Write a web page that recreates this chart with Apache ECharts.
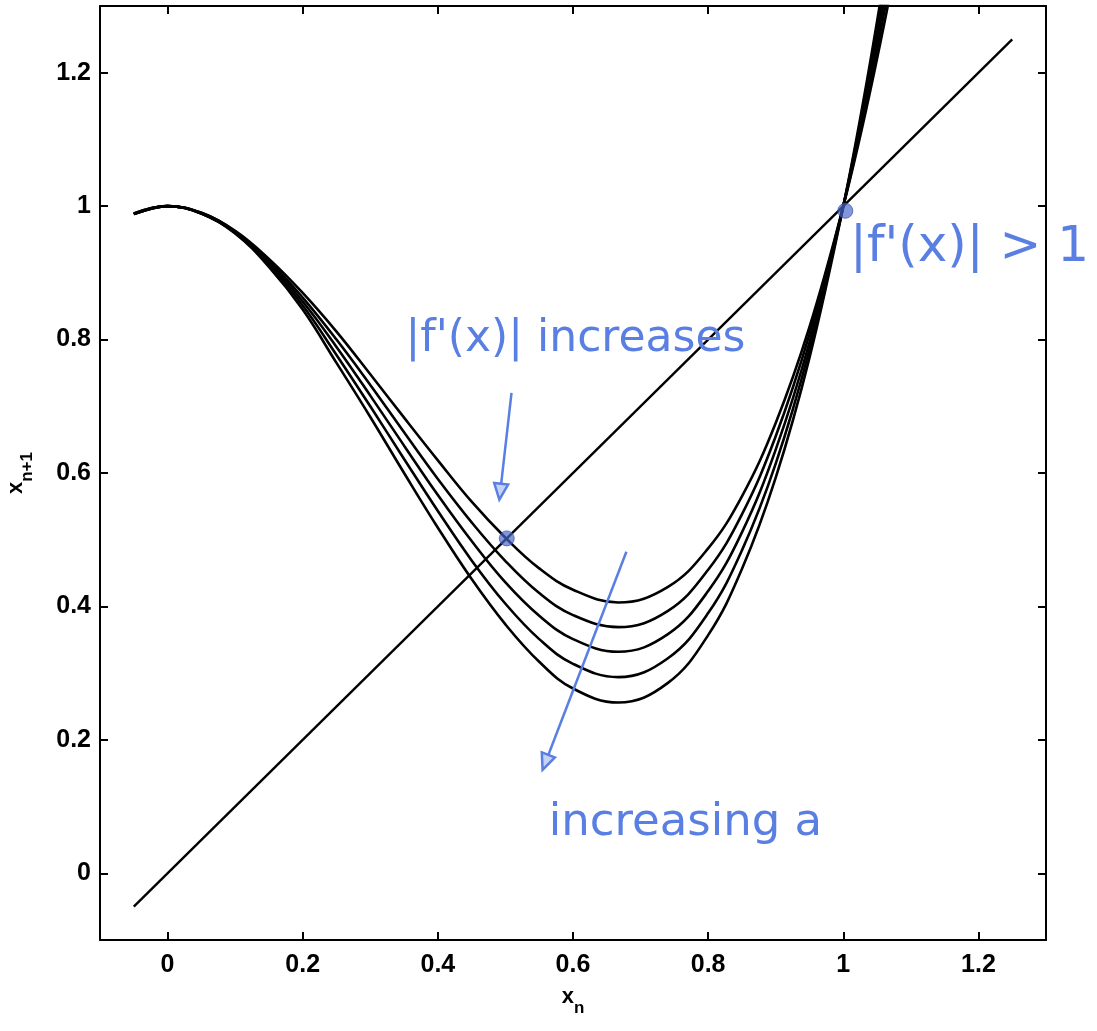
<!DOCTYPE html>
<html>
<head>
<meta charset="utf-8">
<script src="https://cdn.jsdelivr.net/npm/echarts@6/dist/echarts.min.js"></script>
<style>
  html, body { margin: 0; padding: 0; background: #fff; }
  #chart { width: 1097px; height: 1031px; }
</style>
</head>
<body>
<div id="chart"></div>
<script>
// Sample abscissae shared by the map curves (0.667 sits on the minimum)
const xn = [-0.05, 0, 0.05, 0.1, 0.15, 0.2, 0.25, 0.3, 0.35, 0.4, 0.45, 0.5, 0.55, 0.6, 0.667, 0.74, 0.8, 0.85, 0.9, 0.95, 1.0, 1.035, 1.07];

// Return map x_{n+1} = f(x_n) for five values of a (f1: smallest a, f5: largest a)
const f1 = [0.989, 1.0, 0.990, 0.963, 0.921, 0.870, 0.812, 0.748, 0.683, 0.619, 0.557, 0.503, 0.457, 0.425, 0.406, 0.429, 0.487, 0.565, 0.675, 0.819, 1.0, 1.150, 1.321];
const f2 = [0.989, 1.0, 0.990, 0.962, 0.918, 0.863, 0.800, 0.732, 0.661, 0.591, 0.526, 0.468, 0.420, 0.387, 0.369, 0.393, 0.455, 0.538, 0.655, 0.808, 1.0, 1.160, 1.341];
const f3 = [0.988, 1.0, 0.989, 0.961, 0.915, 0.857, 0.789, 0.716, 0.641, 0.567, 0.498, 0.436, 0.386, 0.351, 0.332, 0.358, 0.423, 0.511, 0.635, 0.796, 1.0, 1.169, 1.361];
const f4 = [0.988, 1.0, 0.989, 0.960, 0.912, 0.851, 0.777, 0.700, 0.621, 0.543, 0.469, 0.404, 0.351, 0.314, 0.294, 0.322, 0.390, 0.484, 0.614, 0.785, 1.0, 1.179, 1.382];
const f5 = [0.988, 1.0, 0.989, 0.959, 0.909, 0.845, 0.765, 0.684, 0.600, 0.518, 0.441, 0.373, 0.317, 0.277, 0.256, 0.285, 0.357, 0.456, 0.593, 0.773, 1.0, 1.188, 1.402];

// Identity line x_{n+1} = x_n
const diagonal = [[-0.05, -0.05], [1.25, 1.25]];

// Marked fixed points
const fixedPoints = [[0.502, 0.502], [1.003, 0.993]];

// Tick values on both axes
const tickValues = [0, 0.2, 0.4, 0.6, 0.8, 1, 1.2];

// Hand annotations (positions in data units)
const notes = [
  { text: "|f'(x)| increases", at: [0.352, 0.80], size: 44 },
  { text: "|f'(x)| > 1", at: [1.01, 0.937], size: 50 },
  { text: "increasing a", at: [0.564, 0.075], size: 45 }
];
const arrows = [
  { from: [0.509, 0.720], to: [0.491, 0.560] },
  { from: [0.679, 0.482], to: [0.555, 0.155] }
];

const INK = '#5a7fe2';
const FONT = 'Liberation Sans, Arial, sans-serif';

const chart = echarts.init(document.getElementById('chart'), null, { renderer: 'canvas' });

function makeAxis(extra) {
  return Object.assign({
    type: 'value',
    min: -0.1,
    max: 1.3,
    axisLine: { show: true, onZero: false, lineStyle: { color: '#000', width: 2 } },
    axisTick: { show: true, inside: true, length: 8, customValues: tickValues, lineStyle: { color: '#000', width: 2 } },
    axisLabel: {
      show: true, customValues: tickValues, formatter: v => String(v),
      color: '#000', fontFamily: FONT, fontWeight: 'bold', fontSize: 25, margin: 13
    },
    splitLine: { show: false }
  }, extra);
}

const titleRich = {
  b: { fontSize: 22, fontWeight: 'bold', fontFamily: FONT, color: '#000', verticalAlign: 'bottom', padding: [0, 0, 9, 0] },
  s: { fontSize: 17, fontWeight: 'bold', fontFamily: FONT, color: '#000', verticalAlign: 'bottom' }
};

const curveSeries = [f1, f2, f3, f4, f5].map((ys, k) => ({
  name: 'a' + (k + 1),
  type: 'line',
  data: xn.map((x, i) => [x, ys[i]]),
  showSymbol: false,
  symbol: 'none',
  smooth: 0.4,
  clip: true,
  lineStyle: { color: '#000', width: 2.6 },
  z: 3
}));

chart.setOption({
  backgroundColor: '#fff',
  animation: false,
  grid: { left: 100, right: 51, top: 6, bottom: 91, containLabel: false, outerBoundsMode: 'none' },
  xAxis: [
    makeAxis({
      position: 'bottom',
      name: '{b|x}{s|n}',
      nameLocation: 'middle',
      nameGap: 46,
      nameTextStyle: { rich: titleRich }
    }),
    makeAxis({ position: 'top', axisLabel: { show: false } })
  ],
  yAxis: [
    makeAxis({
      position: 'left',
      name: '{b|x}{s|n+1}',
      nameLocation: 'middle',
      nameGap: 64,
      nameRotate: 90,
      nameTextStyle: { rich: titleRich },
      axisLabel: {
        show: true, customValues: tickValues, formatter: v => String(v),
        color: '#000', fontFamily: FONT, fontWeight: 'bold', fontSize: 25, margin: 9
      }
    }),
    makeAxis({ position: 'right', axisLabel: { show: false } })
  ],
  series: [
    ...curveSeries,
    {
      name: 'identity',
      type: 'line',
      data: diagonal,
      showSymbol: false,
      symbol: 'none',
      lineStyle: { color: '#000', width: 2.4 },
      z: 3
    },
    {
      name: 'fixed points',
      type: 'scatter',
      data: fixedPoints,
      symbolSize: 15,
      itemStyle: { color: 'rgba(72,102,200,0.85)', borderColor: 'rgba(60,80,170,0.9)', borderWidth: 1 },
      z: 5
    }
  ]
});

// Blue hand annotations placed through the axes
function px(p) { return chart.convertToPixel({ gridIndex: 0 }, p); }

const graphics = [];
notes.forEach(n => {
  const p = px(n.at);
  graphics.push({
    type: 'text',
    x: p[0], y: p[1],
    z: 10,
    style: {
      text: n.text,
      fill: INK,
      font: n.size + 'px "DejaVu Sans", sans-serif',
      align: 'left',
      verticalAlign: 'middle'
    }
  });
});
arrows.forEach(a => {
  const s = px(a.from), e = px(a.to);
  const dx = e[0] - s[0], dy = e[1] - s[1];
  const len = Math.hypot(dx, dy);
  const ux = dx / len, uy = dy / len;
  const head = 16, half = 7;
  const bx = e[0] - ux * head, by = e[1] - uy * head;
  graphics.push({
    type: 'polyline', z: 10,
    shape: { points: [s, [bx, by]] },
    style: { stroke: INK, lineWidth: 2.5, fill: null }
  });
  graphics.push({
    type: 'polygon', z: 10,
    shape: { points: [e, [bx - uy * half, by + ux * half], [bx + uy * half, by - ux * half]] },
    style: { stroke: INK, lineWidth: 2.5, fill: 'rgba(91,128,224,0.35)' }
  });
});
chart.setOption({ graphic: graphics });
</script>
</body>
</html>
